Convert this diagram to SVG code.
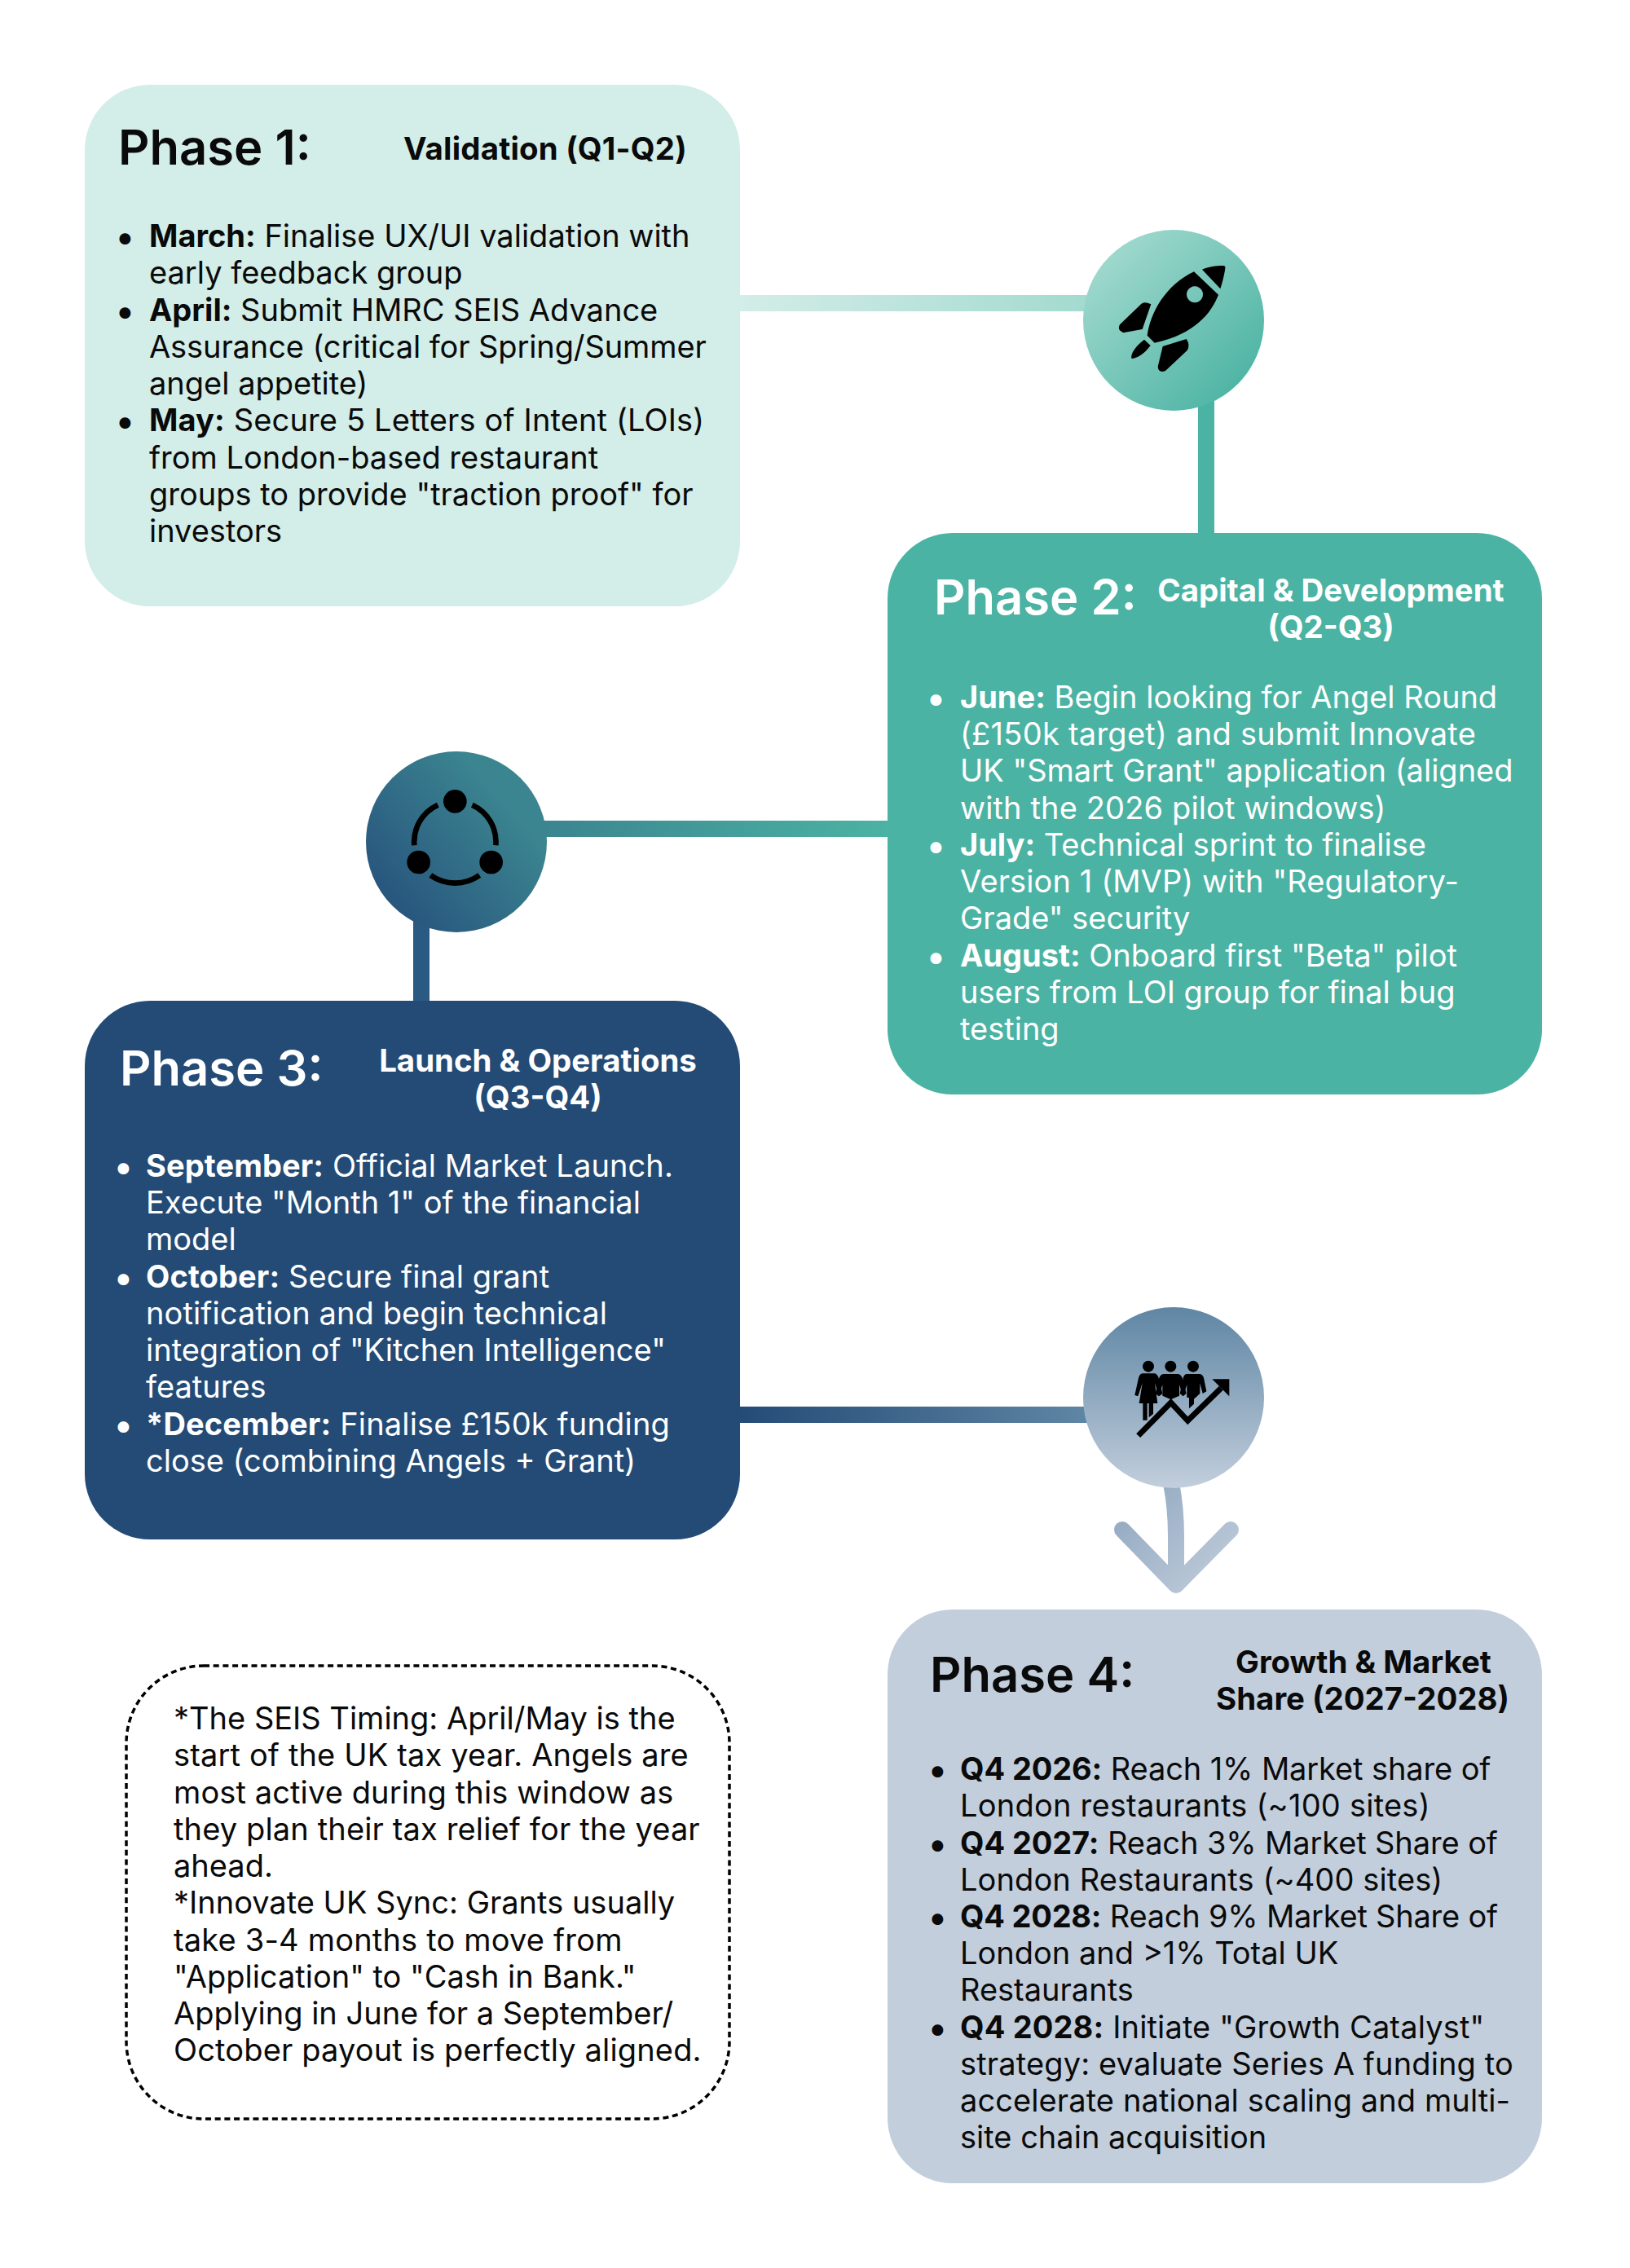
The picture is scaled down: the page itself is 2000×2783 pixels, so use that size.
<svg xmlns="http://www.w3.org/2000/svg" width="2000" height="2783" viewBox="0 0 2000 2783">
<style>
text{font-family:Inter,"Liberation Sans",sans-serif;fill:#0a0a0a;transform:translateY(1px)}
.b{font-size:38px;font-weight:400}
.b tspan{font-weight:700}
.d{font-size:44px;transform:translate(-6px,4px)}
.h{font-size:59.7px;font-weight:600;transform:translateY(1.5px)}
.s{font-size:38.4px;font-weight:700}
.m{text-anchor:middle}
.w text{fill:#fff}
.c{fill:none;stroke-width:20}
</style>
<defs>
<linearGradient id="g1" gradientUnits="userSpaceOnUse" x1="907" y1="0" x2="1335" y2="0"><stop offset="0" stop-color="#D3EDE8"/><stop offset="1" stop-color="#A3DACF"/></linearGradient>
<linearGradient id="g2" gradientUnits="userSpaceOnUse" x1="670" y1="0" x2="1088" y2="0"><stop offset="0" stop-color="#3B8590"/><stop offset="1" stop-color="#4BB3A3"/></linearGradient>
<linearGradient id="g3" gradientUnits="userSpaceOnUse" x1="907" y1="0" x2="1335" y2="0"><stop offset="0" stop-color="#234B76"/><stop offset="1" stop-color="#5F86A4"/></linearGradient>
<linearGradient id="g4" gradientUnits="userSpaceOnUse" x1="1380" y1="1820" x2="1510" y2="1950"><stop offset="0" stop-color="#8FA6BF"/><stop offset="1" stop-color="#C2CEDC"/></linearGradient>
<linearGradient id="c1" x1="0.1" y1="0.1" x2="0.9" y2="0.9"><stop offset="0" stop-color="#A3DACF"/><stop offset="1" stop-color="#4BB3A3"/></linearGradient>
<linearGradient id="c2" x1="0.1" y1="0.9" x2="0.8" y2="0.3"><stop offset="0" stop-color="#27527C"/><stop offset="1" stop-color="#3B8590"/></linearGradient>
<linearGradient id="c3" x1="0" y1="0" x2="0" y2="1"><stop offset="0" stop-color="#5F86A4"/><stop offset="1" stop-color="#C2CEDC"/></linearGradient>
</defs>
<rect width="2000" height="2783" fill="#fff"/>
<g id="connectors">
<line class="c" x1="907" y1="372" x2="1340" y2="372" stroke="url(#g1)"/>
<line class="c" x1="1480" y1="490" x2="1480" y2="654" stroke="#4BB3A3"/>
<line class="c" x1="660" y1="1017" x2="1089" y2="1017" stroke="url(#g2)"/>
<line class="c" x1="517" y1="1120" x2="517" y2="1228" stroke="#2A5A82"/>
<line class="c" x1="907" y1="1736" x2="1340" y2="1736" stroke="url(#g3)"/>
<path class="c" d="M1437,1820C1441,1840 1443,1860 1443,1885V1945" stroke="url(#g4)"/>
<path class="c" d="M1377,1877L1443,1945L1510,1877" stroke="url(#g4)" stroke-linecap="round" stroke-linejoin="round"/>
</g>
<g id="circle-1">
<circle cx="1440" cy="393" r="111" fill="url(#c1)"/>
<g transform="translate(1280,260) scale(.33333)" fill="#000">
<path fill-rule="evenodd" d="M555,220L645,305C620,370 560,450 410,482L383,455C395,370 450,270 555,220ZM558,274a30,30 0 1,0 .01,0Z"/>
<path d="M585,212C610,200 650,197 665,198Q672,200 670,208C668,225 660,260 652,283Z"/>
<path d="M397,340L365,432L295,445Q270,435 282,415L360,340Q370,328 397,340Z"/>
<path d="M527,468Q542,490 530,510L450,585Q425,595 422,570L440,495Z"/>
<path d="M372,470L395,492C375,520 345,540 325,540C320,520 345,490 372,470Z"/>
</g>
</g>
<g id="circle-2">
<circle cx="560" cy="1033" r="111" fill="url(#c2)"/>
<g transform="translate(420,900) scale(.33333)">
<circle cx="415" cy="250" r="43"/><circle cx="281" cy="474" r="43"/><circle cx="548" cy="474" r="43"/>
<g fill="none" stroke="#000" stroke-width="20">
<path d="M352,263A150,150 0 0,0 265,412"/>
<path d="M478,263A150,150 0 0,1 565,412"/>
<path d="M325,522A155,155 0 0,0 505,522"/>
</g>
</g>
</g>
<g id="circle-3">
<circle cx="1440" cy="1715" r="111" fill="url(#c3)"/>
<g transform="translate(1385,1660) scale(.33333)">
<circle cx="72" cy="50" r="21"/><circle cx="154" cy="50" r="21"/><circle cx="237" cy="50" r="21"/>
<path d="M50,76H95Q105,78 110,92L124,150L112,160L96,112L106,186H90V225L74,238V186H68V248H52V186H38L50,112L34,160L22,156L36,92Q40,78 50,76Z"/>
<path d="M128,78H182Q192,80 197,92L212,150L200,160L186,118V158L155,172L124,158V118L110,160L98,150L112,92Q116,80 128,78Z"/>
<path d="M212,78H262Q272,80 276,92L286,142L272,150L262,112V150L240,170V188L222,205V165H214V118L200,160L188,150L200,92Q204,80 212,78Z"/>
<path d="M35,305L155,183L217,250L340,130" fill="none" stroke="#000" stroke-width="21"/>
<path d="M307,97H370V160Z"/>
</g>
</g>
<g id="phase-1">
<rect x="104" y="104" width="804" height="640" rx="80" fill="#D3EDE8"/>
<text class="h" x="145" y="200">Phase 1:</text>
<text class="s" x="495" y="195" letter-spacing=".2">Validation (Q1-Q2)</text>
<text x="147" y="302" class="b d">•</text>
<text x="183" y="302" class="b"><tspan>March:</tspan> Finalise UX/UI validation with</text>
<text x="183" y="347" class="b">early feedback group</text>
<text x="147" y="393" class="b d">•</text>
<text x="183" y="393" class="b"><tspan>April:</tspan> Submit HMRC SEIS Advance</text>
<text x="183" y="438" class="b" letter-spacing="-.1">Assurance (critical for Spring/Summer</text>
<text x="183" y="483" class="b">angel appetite)</text>
<text x="147" y="528" class="b d">•</text>
<text x="183" y="528" class="b" letter-spacing=".14"><tspan>May:</tspan> Secure 5 Letters of Intent (LOIs)</text>
<text x="183" y="574" class="b">from London-based restaurant</text>
<text x="183" y="619" class="b">groups to provide "traction proof" for</text>
<text x="183" y="664" class="b">investors</text>
</g>
<g id="phase-2" class="w">
<rect x="1089" y="654" width="803" height="689" rx="80" fill="#4BB3A3"/>
<text class="h" x="1146" y="752">Phase 2:</text>
<text class="s m" x="1633" y="737">Capital &amp; Development</text>
<text class="s m" x="1633" y="782">(Q2-Q3)</text>
<text x="1142" y="868" class="b d">•</text>
<text x="1178" y="868" class="b"><tspan>June:</tspan> Begin looking for Angel Round</text>
<text x="1178" y="913" class="b" letter-spacing=".26">(£150k target) and submit Innovate</text>
<text x="1178" y="958" class="b">UK "Smart Grant" application (aligned</text>
<text x="1178" y="1004" class="b" letter-spacing=".13">with the 2026 pilot windows)</text>
<text x="1142" y="1049" class="b d">•</text>
<text x="1178" y="1049" class="b"><tspan>July:</tspan> Technical sprint to finalise</text>
<text x="1178" y="1094" class="b" letter-spacing=".11">Version 1 (MVP) with "Regulatory-</text>
<text x="1178" y="1139" class="b">Grade" security</text>
<text x="1142" y="1185" class="b d">•</text>
<text x="1178" y="1185" class="b"><tspan>August:</tspan> Onboard first "Beta" pilot</text>
<text x="1178" y="1230" class="b">users from LOI group for final bug</text>
<text x="1178" y="1275" class="b">testing</text>
</g>
<g id="phase-3" class="w">
<rect x="104" y="1228" width="804" height="661" rx="80" fill="#234B76"/>
<text class="h" x="147" y="1330">Phase 3:</text>
<text class="s m" x="660" y="1314">Launch &amp; Operations</text>
<text class="s m" x="660" y="1359">(Q3-Q4)</text>
<text x="145" y="1443" class="b d">•</text>
<text x="179" y="1443" class="b" letter-spacing=".1"><tspan>September:</tspan> Official Market Launch.</text>
<text x="179" y="1488" class="b">Execute "Month 1" of the financial</text>
<text x="179" y="1533" class="b">model</text>
<text x="145" y="1579" class="b d">•</text>
<text x="179" y="1579" class="b" letter-spacing=".12"><tspan>October:</tspan> Secure final grant</text>
<text x="179" y="1624" class="b" letter-spacing=".11">notification and begin technical</text>
<text x="179" y="1669" class="b">integration of "Kitchen Intelligence"</text>
<text x="179" y="1714" class="b">features</text>
<text x="145" y="1760" class="b d">•</text>
<text x="179" y="1760" class="b" letter-spacing=".16"><tspan>*December:</tspan> Finalise £150k funding</text>
<text x="179" y="1805" class="b">close (combining Angels + Grant)</text>
</g>
<g id="phase-4">
<rect x="1089" y="1975" width="803" height="704" rx="80" fill="#C2CEDC"/>
<text class="h" x="1141" y="2074">Phase 4:</text>
<text class="s m" x="1673" y="2052">Growth &amp; Market</text>
<text class="s m" x="1672" y="2097">Share (2027-2028)</text>
<text x="1144" y="2183" class="b d">•</text>
<text x="1178" y="2183" class="b" letter-spacing="-.11"><tspan>Q4 2026:</tspan> Reach 1% Market share of</text>
<text x="1178" y="2228" class="b" letter-spacing=".23">London restaurants (~100 sites)</text>
<text x="1144" y="2274" class="b d">•</text>
<text x="1178" y="2274" class="b" letter-spacing="-.11"><tspan>Q4 2027:</tspan> Reach 3% Market Share of</text>
<text x="1178" y="2319" class="b" letter-spacing=".11">London Restaurants (~400 sites)</text>
<text x="1144" y="2364" class="b d">•</text>
<text x="1178" y="2364" class="b" letter-spacing="-.23"><tspan>Q4 2028:</tspan> Reach 9% Market Share of</text>
<text x="1178" y="2409" class="b">London and &gt;1% Total UK</text>
<text x="1178" y="2454" class="b">Restaurants</text>
<text x="1144" y="2500" class="b d">•</text>
<text x="1178" y="2500" class="b" letter-spacing=".15"><tspan>Q4 2028:</tspan> Initiate "Growth Catalyst"</text>
<text x="1178" y="2545" class="b" letter-spacing=".14">strategy: evaluate Series A funding to</text>
<text x="1178" y="2590" class="b" letter-spacing=".1">accelerate national scaling and multi-</text>
<text x="1178" y="2635" class="b">site chain acquisition</text>
</g>
<g id="note">
<rect x="155" y="2044" width="740" height="556" rx="95" fill="none" stroke="#000" stroke-width="3.5" stroke-dasharray="7 4.7"/>
<text x="213" y="2121" class="b">*The SEIS Timing: April/May is the</text>
<text x="213" y="2166" class="b" letter-spacing=".15">start of the UK tax year. Angels are</text>
<text x="213" y="2212" class="b" letter-spacing=".11">most active during this window as</text>
<text x="213" y="2257" class="b" letter-spacing=".14">they plan their tax relief for the year</text>
<text x="213" y="2302" class="b">ahead.</text>
<text x="213" y="2347" class="b">*Innovate UK Sync: Grants usually</text>
<text x="213" y="2393" class="b" letter-spacing=".19">take 3-4 months to move from</text>
<text x="213" y="2438" class="b">"Application" to "Cash in Bank."</text>
<text x="213" y="2483" class="b">Applying in June for a September/</text>
<text x="213" y="2528" class="b" letter-spacing=".15">October payout is perfectly aligned.</text>
</g>
</svg>
